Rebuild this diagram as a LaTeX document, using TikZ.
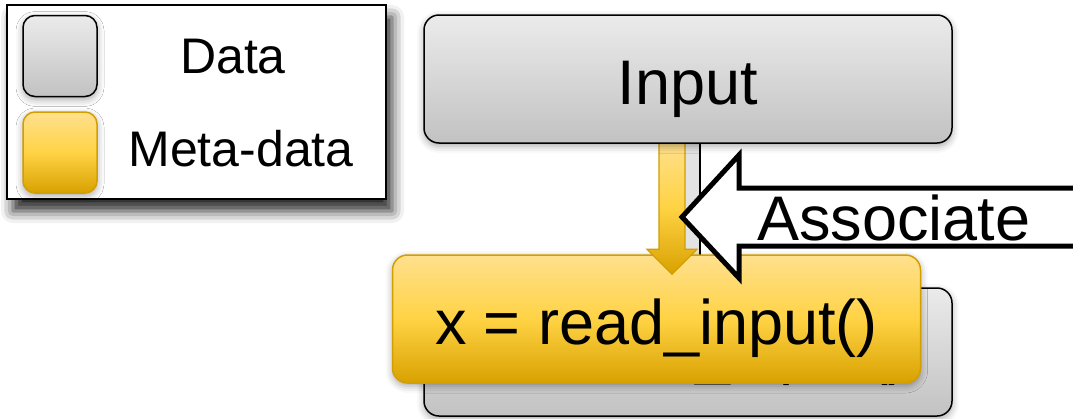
\documentclass[tikz,border=0pt]{standalone}
\usepackage{fontspec}
\setmainfont{Liberation Sans}
\usetikzlibrary{calc,shadows.blur}
\definecolor{graytop}{HTML}{EBEBEB}
\definecolor{graybot}{HTML}{C2C2C2}
\definecolor{goldtop}{HTML}{FFE08E}
\definecolor{goldmid}{HTML}{FFD344}
\definecolor{goldbot}{HTML}{D8A100}
\definecolor{goldline}{HTML}{D29E00}
\tikzset{
  databox/.style={draw=black, line width=1.5pt, rounded corners=15pt, top color=graytop, bottom color=graybot,
    minimum width=528pt, minimum height=128pt, inner sep=0pt, text height=50pt, text depth=0pt,
    font=\fontsize{63}{70}\selectfont},
  metabox/.style={databox, draw=goldline, top color=goldtop, bottom color=goldbot, middle color=goldmid},
  swatch/.style={line width=1.5pt, rounded corners=12pt, minimum width=74pt, minimum height=81pt, inner sep=0pt},
  softshadow/.style={blur shadow={shadow xshift=0pt, shadow yshift=-3pt, shadow blur radius=7pt, shadow opacity=35}},
  bigtext/.style={font=\fontsize{63}{70}\selectfont, inner sep=0pt},
  legendtext/.style={font=\fontsize{50}{56}\selectfont, inner sep=0pt},
}
\begin{document}
\begin{tikzpicture}[x=1pt, y=-1pt]
    \useasboundingbox (0,0) rectangle (1073,418);
    % legend
    \node[draw, line width=2pt, fill=white, minimum width=379pt, minimum height=194pt, inner sep=0pt,
      blur shadow={shadow xshift=6pt, shadow yshift=-12pt, shadow blur radius=12pt, shadow opacity=85}]
      (legend) at (196.5,102) {};
    \node[swatch, draw=black, top color=graytop, bottom color=graybot, softshadow] (sdata) at (60,56) {};
    \node[swatch, draw=goldline, top color=goldtop, bottom color=goldbot, middle color=goldmid, softshadow] (smeta) at (60,152.5) {};
    \node[legendtext] (ldata) at (233,57) {Data};
    \node[legendtext] (lmeta) at (241,149) {Meta-data};
    % boxes
    \fill[gray!22] (685,140) rectangle (700,262);
    \draw[line width=1.5pt] (700,140) -- (700,262);
    \node[databox, text height=41pt, softshadow] (back) at (688,352) {x = read\_input()};
    \node[metabox, softshadow] (meta) at (656.5,319) {x = read\_input()};
    \coordinate (atop) at (672,140);
    \coordinate (abot) at ($(meta.north)+(15.5,20)$);
    \draw[goldline, line width=1.2pt, line join=miter, top color=goldtop, bottom color=goldbot, middle color=goldmid]
      ($(atop)+(-13,0)$) -- ($(atop)+(13,0)$) -- ($(abot)+(13,-25)$) -- ($(abot)+(25,-25)$) -- (abot)
      -- ($(abot)+(-25,-25)$) -- ($(abot)+(-13,-25)$) -- cycle;
    \node[databox, softshadow] (inp) at (688,79) {Input};
    % associate arrow
    \coordinate (tip) at (682,217);
    \draw[line width=5pt, fill=white, line join=miter] (tip) -- ++(57,-62) -- ++(0,33) -- ++(350,0)
      -- ++(0,58) -- ++(-350,0) -- ++(0,32) -- cycle;
    \node[bigtext, anchor=base west] (assoc) at (757,240) {Associate};
  \end{tikzpicture}
\end{document}
